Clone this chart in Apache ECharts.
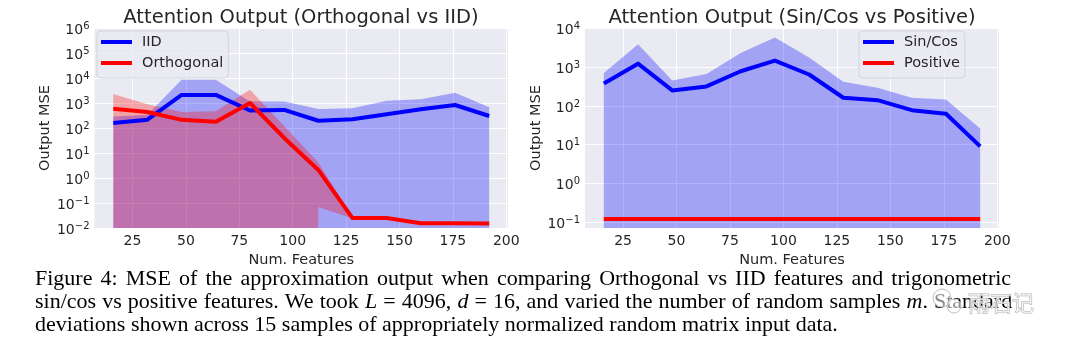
<!DOCTYPE html>
<html>
<head>
<meta charset="utf-8">
<script src="https://cdn.jsdelivr.net/npm/echarts@6/dist/echarts.min.js"></script>
<style>
  html, body { margin: 0; padding: 0; background: #fff; }
  #main { width: 1080px; height: 354px; }
</style>
</head>
<body>
<div id="main"></div>
<script>
// number of random features (x axis)
const features = [16, 32, 48, 64, 80, 96, 112, 128, 144, 160, 176, 192];
const xTicks = [25, 50, 75, 100, 125, 150, 175, 200];

// left chart: Orthogonal vs IID (0 = mean - std not positive, clipped on log scale)
const iidMean = [158, 215, 2100, 2100, 500, 530, 195, 222, 355, 560, 830, 302];
const iidUpper = [290, 340, 8500, 8500, 1150, 1150, 575, 610, 1230, 1400, 2570, 670];
const iidLower = [0, 0, 0, 0, 0, 0, 0, 0, 0, 0, 0, 0];
const orthMean = [590, 437, 212, 176, 1000, 40, 2.1, 0.025, 0.025, 0.0155, 0.0155, 0.015];
const orthUpper = [2300, 900, 437, 465, 3400, 120, 4.2, 0.027, 0.027, 0.017, 0.017, 0.016];
const orthLower = [0, 0, 0, 0, 0, 0, 0.069, 0.024, 0.024, 0.014, 0.014, 0.014];
const leftDecades = [-2, -1, 0, 1, 2, 3, 4, 5, 6];

// right chart: Sin/Cos vs Positive
const sincosMean = [380, 1240, 252, 320, 790, 1480, 650, 163, 141, 78, 63, 9];
const sincosUpper = [710, 3950, 455, 670, 2330, 5900, 1800, 420, 295, 163, 148, 26];
const sincosLower = [0, 0, 0, 0, 0, 0, 0, 0, 0, 0, 0, 0];
const positiveMean = [0.12, 0.12, 0.12, 0.12, 0.12, 0.12, 0.12, 0.12, 0.12, 0.12, 0.12, 0.12];
const rightDecades = [-1, 0, 1, 2, 3, 4];

// caption (lines 1 and 2 are justified in the paper)
const captionLines = [
  'Figure 4: MSE of the approximation output when comparing Orthogonal vs IID features and trigonometric',
  'sin/cos vs positive features. We took {i|L} = 4096, {i|d} = 16, and varied the number of random samples {i|m}. Standard',
  'deviations shown across 15 samples of appropriately normalized random matrix input data.'
];

const textColor = '#262626';
const font = 'DejaVu Sans';
const serif = 'Liberation Serif';

// log10, non-positive values pushed far below the axis like matplotlib's clip
function lg(v) {
  return v > 0 ? Math.log10(v) : -1000;
}

// mean line
function meanSeries(name, values, color, idx) {
  return {
    name: name,
    type: 'line',
    xAxisIndex: idx,
    yAxisIndex: idx,
    symbol: 'none',
    silent: true,
    itemStyle: { color: color },
    lineStyle: { color: color, width: 4, join: 'round' },
    data: features.map((x, i) => [x, lg(values[i])])
  };
}

// std band: one polygon, upper edge then lower edge back
function bandSeries(name, lower, upper, fill, idx) {
  return {
    name: name + ' std',
    type: 'custom',
    xAxisIndex: idx,
    yAxisIndex: idx,
    silent: true,
    clip: true,
    data: [[features[0], 0]],
    renderItem: function (params, api) {
      const top = features.map((x, i) => api.coord([x, lg(upper[i])]));
      const bottom = features.map((x, i) => api.coord([x, lg(lower[i])])).reverse();
      return {
        type: 'polygon',
        silent: true,
        shape: { points: top.concat(bottom) },
        style: { fill: fill }
      };
    }
  };
}

function powLabel(v) {
  const e = v < 0 ? '\u2212' + (-v) : String(v);
  return '{b|10}{s|' + e + '}';
}

function xAxisCfg(idx) {
  return {
    type: 'value',
    gridIndex: idx,
    min: 7.2,
    max: 200.8,
    name: 'Num. Features',
    nameLocation: 'middle',
    nameGap: 20,
    nameTextStyle: { fontSize: 14.5, color: textColor, fontFamily: font },
    axisLine: { show: false },
    axisTick: { show: false, customValues: xTicks },
    axisLabel: { customValues: xTicks, margin: 6, fontSize: 14, color: textColor, fontFamily: font },
    splitLine: { show: true, lineStyle: { color: '#ffffff', width: 1 } }
  };
}

function yAxisCfg(idx, min, max, ticks, gap) {
  return {
    type: 'value',
    gridIndex: idx,
    min: min,
    max: max,
    name: 'Output MSE',
    nameLocation: 'middle',
    nameGap: gap,
    nameTextStyle: { fontSize: 14.5, color: textColor, fontFamily: font },
    axisLine: { show: false },
    axisTick: { show: false, customValues: ticks },
    axisLabel: {
      customValues: ticks,
      margin: 5,
      formatter: powLabel,
      rich: {
        b: { fontSize: 14, lineHeight: 14, padding: [4, 0, 0, 0], color: textColor, fontFamily: font },
        s: { fontSize: 10, lineHeight: 10, verticalAlign: 'top', color: textColor, fontFamily: font }
      }
    },
    splitLine: { show: true, lineStyle: { color: '#ffffff', width: 1 } }
  };
}

function legendCfg(names, left) {
  return {
    data: names,
    left: left,
    top: 31,
    orient: 'vertical',
    icon: 'rect',
    itemWidth: 31,
    itemHeight: 4,
    itemGap: 5,
    padding: [3, 5, 7, 4],
    backgroundColor: 'rgba(234,234,242,0.8)',
    borderColor: '#d4d4dc',
    borderWidth: 1,
    borderRadius: 4,
    selectedMode: false,
    textStyle: { fontSize: 14.5, lineHeight: 16, color: textColor, fontFamily: font, padding: [0, 0, 0, 5] }
  };
}

// one caption line; spaceWidth widens word gaps to imitate justification
function captionLine(text, y, spaceWidth) {
  return {
    type: 'text',
    x: 35,
    y: y,
    silent: true,
    style: {
      text: text.split(' ').join('{sp| }'),
      verticalAlign: 'middle',
      fontSize: 22,
      fontFamily: serif,
      fill: '#000',
      rich: {
        i: { fontStyle: 'italic', fontSize: 22, fontFamily: serif, fill: '#000' },
        sp: { width: spaceWidth, fontSize: 22, fontFamily: serif }
      }
    }
  };
}

const chartInstance = echarts.init(document.getElementById('main'), null, { renderer: 'canvas' });

const initOption = {
  animation: false,
  textStyle: { fontFamily: font },
  grid: [
    { left: 94.5, top: 28, width: 413.5, height: 200, show: true, backgroundColor: '#EAEAF2', borderWidth: 0 },
    { left: 585, top: 28, width: 414, height: 200, show: true, backgroundColor: '#EAEAF2', borderWidth: 0 }
  ],
  xAxis: [xAxisCfg(0), xAxisCfg(1)],
  yAxis: [
    yAxisCfg(0, -2, 6, leftDecades, 41),
    yAxisCfg(1, -1.154, 4.015, rightDecades, 40)
  ],
  legend: [
    legendCfg(['IID', 'Orthogonal'], 97),
    legendCfg(['Sin/Cos', 'Positive'], 859)
  ],
  series: [
    bandSeries('IID', iidLower, iidUpper, 'rgba(0,0,255,0.3)', 0),
    bandSeries('Orthogonal', orthLower, orthUpper, 'rgba(255,0,0,0.3)', 0),
    meanSeries('IID', iidMean, '#0000ff', 0),
    meanSeries('Orthogonal', orthMean, '#ff0000', 0),
    bandSeries('Sin/Cos', sincosLower, sincosUpper, 'rgba(0,0,255,0.3)', 1),
    meanSeries('Sin/Cos', sincosMean, '#0000ff', 1),
    meanSeries('Positive', positiveMean, '#ff0000', 1)
  ],
  graphic: [
    // titles
    {
      type: 'text', x: 301, y: 18, silent: true,
      style: { text: 'Attention Output (Orthogonal vs IID)', align: 'center', verticalAlign: 'middle', fontSize: 19.5, fontFamily: font, fill: textColor }
    },
    {
      type: 'text', x: 792, y: 18, silent: true,
      style: { text: 'Attention Output (Sin/Cos vs Positive)', align: 'center', verticalAlign: 'middle', fontSize: 19.5, fontFamily: font, fill: textColor }
    },
    // caption
    captionLine(captionLines[0], 279, 8.1),
    captionLine(captionLines[1], 302, 6.1),
    captionLine(captionLines[2], 325, 5.5),
    // watermark
    {
      type: 'circle', silent: true,
      shape: { cx: 942, cy: 298, r: 9 },
      style: { fill: 'rgba(255,255,255,0.55)', stroke: '#bdbdbd', lineWidth: 1 }
    },
    {
      type: 'circle', silent: true,
      shape: { cx: 954, cy: 306, r: 7 },
      style: { fill: 'rgba(255,255,255,0.55)', stroke: '#bdbdbd', lineWidth: 1 }
    },
    {
      type: 'text', x: 968, y: 303, silent: true,
      style: {
        text: '雨石记', verticalAlign: 'middle', fontSize: 22, fontFamily: 'Noto Sans CJK SC',
        fill: 'rgba(255,255,255,0.6)', stroke: '#b4b4b4', lineWidth: 1
      }
    }
  ]
};

chartInstance.setOption(initOption);

window.addEventListener('resize', () => {
  chartInstance.resize();
});
</script>
</body>
</html>
